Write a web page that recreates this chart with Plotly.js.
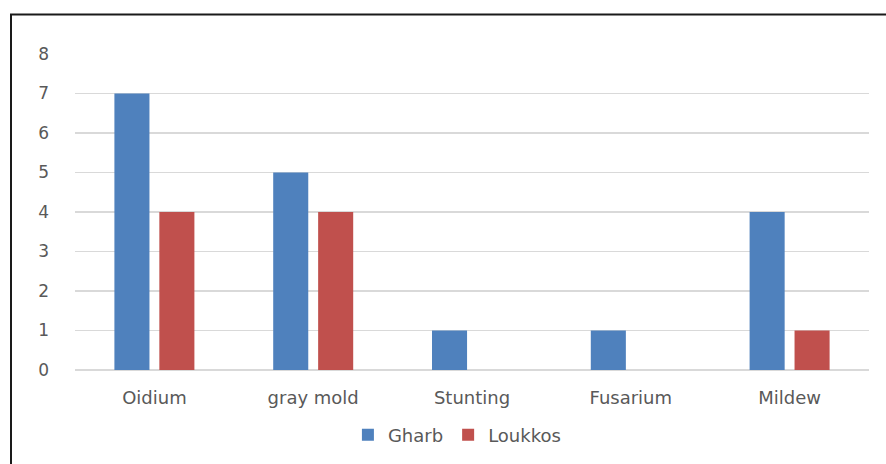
<!DOCTYPE html>
<html>
<head>
<meta charset="utf-8">
<script src="https://cdn.plot.ly/plotly-3.0.1.min.js"></script>
<style>
  html, body { margin: 0; padding: 0; background: #fff; overflow: hidden; }
  #chart { width: 886px; height: 464px; }
</style>
</head>
<body>
<div id="chart"></div>
<script>
// Disease occurrences by region
const categories = ["Oidium", "gray mold", "Stunting", "Fusarium", "Mildew"];
const gharb = [7, 5, 1, 1, 4];
const loukkos = [4, 4, 0, 0, 1];
const yTicks = [0, 1, 2, 3, 4, 5, 6, 7, 8];

const textColor = "#595959";
const fontFamily = "DejaVu Sans, sans-serif";

const traces = [
  { type: "bar", name: "Gharb", x: categories, y: gharb,
    marker: { color: "#4F81BD" } },
  { type: "bar", name: "Loukkos", x: categories, y: loukkos,
    marker: { color: "#C0504D" } }
];

const layout = {
  width: 886, height: 464,
  margin: { l: 75, r: 17, t: 54, b: 94 },
  paper_bgcolor: "#fff", plot_bgcolor: "#fff",
  barmode: "group",
  bargap: 0.434,
  bargroupgap: 0.22,
  font: { family: fontFamily, size: 17, color: textColor },
  xaxis: {
    showgrid: false, showline: false, zeroline: false, automargin: false,
    ticks: "", tickfont: { size: 18, color: textColor, family: fontFamily },
    ticklabelstandoff: 15
  },
  yaxis: {
    range: [0, 8], tickvals: yTicks, ticktext: yTicks.map(String), automargin: false,
    showgrid: true, gridcolor: "#d9d9d9", gridwidth: 1.8,
    zeroline: true, zerolinecolor: "#d9d9d9", zerolinewidth: 1.8,
    showline: false, ticks: "",
    tickfont: { size: 17, color: textColor, family: fontFamily },
    ticklabelstandoff: 25, fixedrange: true
  },
  showlegend: true,
  legend: {
    orientation: "h", xref: "paper", x: 0.481, xanchor: "center",
    yref: "container", y: 29 / 464, yanchor: "middle",
    font: { size: 18, color: textColor, family: fontFamily },
    itemwidth: 30, traceorder: "normal"
  },
  shapes: [
    { type: "rect", xref: "paper", yref: "paper",
      x0: -64 / 794, x1: 1.1, y0: -0.5, y1: 1 + 39.5 / 316,
      line: { color: "#1a1a1a", width: 2 }, fillcolor: "rgba(0,0,0,0)", layer: "above" }
  ]
};

Plotly.newPlot("chart", traces, layout, { displayModeBar: false, staticPlot: true });
</script>
</body>
</html>
